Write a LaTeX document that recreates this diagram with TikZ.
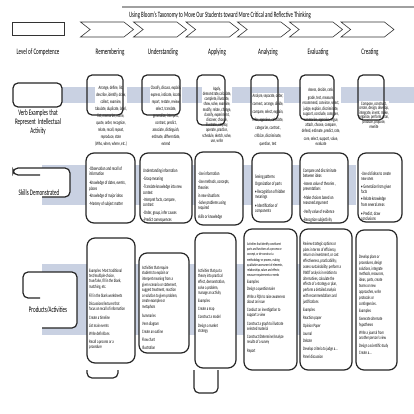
\documentclass[tikz,border=0pt]{standalone}
\usepackage{fontspec}
\setmainfont{Carlito}[FakeStretch=0.6]
\usetikzlibrary{shapes.symbols}
\definecolor{bandblue}{RGB}{201,209,226}
\definecolor{rulegray}{RGB}{160,160,160}

\begin{document}
\begin{tikzpicture}[x=1pt, y=-1pt,
  ttl/.style={font=\fontsize{8.1}{9}\selectfont, inner sep=0pt},
  hdr/.style={font=\fontsize{8.4}{9}\selectfont, inner sep=0pt, align=center},
  chev/.style={signal, signal from=west, signal to=east, signal pointer angle=76,
               draw=black!80, line width=0.6pt, minimum width=53pt, minimum height=15pt, inner sep=0pt},
  lvlbox/.style={rectangle, draw=black!80, line width=0.6pt, minimum width=52pt, minimum height=13pt},
  vbox/.style={rectangle, rounded corners=5pt, draw=black!85, line width=1.2pt},
  verb/.style={fill=white, inner sep=0.6pt, align=center, anchor=north},
  cbox/.style={rectangle, rounded corners=8pt, draw=black!85, fill=white, line width=1.2pt},
  skill/.style={anchor=north west, inner sep=0pt, align=left, font=\fontsize{5.2}{5.3}\selectfont},
  prod/.style={anchor=north west, inner sep=0pt, align=left, font=\fontsize{5}{5.6}\selectfont},
  rowline/.style={draw=black!85, fill=white, line width=1.2pt, rounded corners=5pt}]

  \useasboundingbox (0,0) rectangle (414,414);

  % bands behind the rows
  \fill[bandblue] (62,87) rectangle (414,103);
  \fill[bandblue] (42,165) rectangle (356,205);
  \fill[bandblue] (42,264) rectangle (300,335);
  \draw[rulegray, line width=2pt] (122,7) -- (414,7);

  \node[ttl] at (220,15) (title)
    {Using Bloom's Taxonomy to Move Our Students toward More Critical and Reflective Thinking};

  % header row
  \node[lvlbox] at (38,28.5) (lvl) {};
  \node[chev] at (107,29.5) (ch1) {};
  \node[chev] at (160,29.5) (ch2) {};
  \node[chev] at (212.5,29.5) (ch3) {};
  \node[chev] at (264,29.5) (ch4) {};
  \node[chev] at (316,29.5) (ch5) {};
  \node[chev] at (367.5,29.5) (ch6) {};

  \node[hdr] at (38,52) (lvltxt) {Level of Competence};
  \node[hdr] at (110,52) (rem) {Remembering};
  \node[hdr] at (163,52) (und) {Understanding};
  \node[hdr] at (217,52) (app) {Applying};
  \node[hdr] at (268,52) (ana) {Analyzing};
  \node[hdr] at (318,52) (eva) {Evaluating};
  \node[hdr] at (370,52) (cre) {Creating};

  % row labels
  \draw[rowline] (13,83) rectangle (62,107);
  \node[hdr] at (38,122) (verbs) {Verb Examples that\\ Represent \ Intellectual\\ Activity};
  \draw[rowline] (40,175) -- (13,175) -- (13,168) -- (70,168) -- (70,197) -- (42,197);
  \node[hdr] at (39,193) (skills) {Skills Demonstrated};
  \draw[rowline] (40,298) -- (23,298) -- (23,272) -- (77,272) -- (77,328) -- (42,328);
  \node[hdr] at (48,310) (prods) {Products/Activities};

  % verbs
  \node[verb, font=\fontsize{5.1}{7}\selectfont] at (111,85) (vt1)
    {Arrange, define, list,\\ describe, identify, draw,\\ collect, examine,\\ tabulate, duplicate, label,\\ list, memorize, name,\\ quote, order, recognize,\\ relate, recall, repeat,\\ reproduce, state\\ (Who, when, where, etc.)};
  \node[verb, font=\fontsize{5.1}{7}\selectfont] at (166,85) (vt2)
    {Classify, discuss, explain,\\ express, indicate, locate,\\ report, restate, review,\\ select, translate,\\ generalize, interpret,\\ contrast, predict,\\ associate, distinguish,\\ estimate, differentiate,\\ extend};
  \node[verb, font=\fontsize{5.1}{5.2}\selectfont] at (217,86) (vt3)
    {Apply,\\ demonstrate,calculate,\\ complete, illustrate,\\ show, solve, examine,\\ modify, relate, change,\\ classify, experiment,\\ discover, choose,\\ illustrate, employ,\\ operate, practice,\\ schedule, sketch, solve,\\ use, write};
  \node[verb, font=\fontsize{5.1}{8}\selectfont] at (268,93) (vt4)
    {Analyze, separate, order,\\ connect, arrange, divide,\\ compare, select, explain,\\ infer, appraise, calculate,\\ categorize, contrast,\\ criticize, discriminate,\\ question, test};
  \node[verb, font=\fontsize{5.1}{5.5}\selectfont] at (321,87) (vt5)
    {Assess, decide, rank,\\[2.5pt] grade, test, measure,\\ recommend, convince, select,\\ judge, explain, discriminate,\\ support, conclude, compare,\\ summarize, appraise, argue,\\ attach, choose, compare,\\ defend, estimate, predict, rate,\\[2.5pt] core, select, support, value,\\ evaluate};
  \node[verb, font=\fontsize{5.1}{4.6}\selectfont] at (374,101) (vt6)
    {Compose, construct,\\ create, design, develop,\\ integrate, invent, make,\\ organize, perform, plan,\\ produce, propose,\\ rewrite};

  \node[vbox, minimum width=36pt, minimum height=40pt] at (105,95) (vb1) {};
  \node[vbox, minimum width=38pt, minimum height=40pt] at (161,95) (vb2) {};
  \node[vbox, minimum width=28pt, minimum height=50pt] at (211,100) (vb3) {};
  \node[vbox, minimum width=27pt, minimum height=45pt] at (264.5,97.5) (vb4) {};
  \node[vbox, minimum width=34pt, minimum height=45pt] at (317,97.5) (vb5) {};
  \node[vbox, minimum width=26pt, minimum height=45pt] at (371,97.5) (vb6) {};

  % skills
  \node[cbox, minimum width=49pt, minimum height=70pt] at (110.5,188) (sb1) {};
  \node[cbox, minimum width=52pt, minimum height=70pt] at (166,188) (sb2) {};
  \node[cbox, minimum width=48pt, minimum height=73pt] at (219,188.5) (sb3) {};
  \node[cbox, minimum width=40pt, minimum height=69pt] at (272,187.5) (sb4) {};
  \node[cbox, minimum width=48pt, minimum height=70pt] at (324,188) (sb5) {};
  \node[cbox, minimum width=44pt, minimum height=69pt] at (380,187.5) (sb6) {};

  \node[skill] at (89,166.4) (st1)
    {-Observation and recall of\\ information\\[4pt] -Knowledge of dates, events,\\ places\\[2.5pt] -Knowledge of major ideas\\[2.5pt] -Mastery of subject matter};
  \node[skill] at (143,168.4) (st2)
    {Understanding information\\[3pt] -Grasp meaning\\[3pt] -Translate knowledge into new\\ context\\[2pt] -Interpret facts, compare,\\ contrast\\[2.5pt] -Order, group, infer causes\\[2pt] -Predict consequences};
  \node[skill] at (198,171.4) (st3)
    {-Use information\\[3.5pt] -Use methods, concepts,\\ theories\\[2.5pt] in new situations\\[2pt] -Solve problems using\\ required\\[3.5pt] skills or knowledge};
  \node[skill] at (255,174.4) (st4)
    {Seeing patterns\\[2.5pt] Organization of parts\\[2pt] • Recognition of hidden\\ meanings\\[3.5pt] • Identification of\\ components};
  \node[skill] at (303,168.4) (st5)
    {Compare and discriminate\\ between ideas\\[2.5pt] -Assess value of theories ,\\ presentations\\[3.5pt] -Make choices based on\\ reasoned argument\\[3.5pt] -Verify value of evidence\\[2.5pt] -Recognize subjectivity};
  \node[skill] at (361,171.4) (st6)
    {-Use old ideas to create\\ new ones\\[2.5pt] • Generalize from given\\ facts\\[2pt] • Relate knowledge\\ from several areas\\[3.5pt] • Predict, draw\\ conclusions};

  % products / activities
  \node[cbox, minimum width=48pt, minimum height=125pt] at (111,300.5) (pb1) {};
  \node[cbox, minimum width=50pt, minimum height=100pt] at (164,303) (pb2) {};
  \node[cbox, minimum width=41pt, minimum height=135pt] at (215.5,300.5) (pb3) {};
  \node[cbox, minimum width=53pt, minimum height=141pt] at (270.5,299.5) (pb4) {};
  \node[cbox, minimum width=52pt, minimum height=141pt] at (326,299.5) (pb5) {};
  \node[cbox, minimum width=41pt, minimum height=140pt] at (376.5,300) (pb6) {};
  \draw[rowline, fill=none] (87,370) -- (87,378) -- (118,378) -- (118,370);
  \draw[rowline, fill=none] (194,370) -- (194,393) -- (218,393) -- (218,370);

  \node[prod, font=\fontsize{5}{5.3}\selectfont] at (89,268.6) (pt1)
    {Examples: Most traditional\\ test/multiple-choice,\\ true/false, fill in the blank,\\ matching, etc.\\[4.5pt] Fill in the blank worksheets\\[2pt] Discussions/lectures that\\ focus on recall of information\\[3.5pt] Create a timeline\\[2.7pt] List main events\\[2.7pt] Write definitions\\[2.7pt] Recall a process or a\\ procedure};
  \node[prod] at (142,265.6) (pt2)
    {Activities that require\\ students to explain or\\ interpret meaning from a\\ given scenario or statement,\\ suggest treatment, reaction\\ or solution to given problem,\\ create examples or\\ metaphors\\[3pt] Summaries\\[2.5pt] Venn diagram\\[2.5pt] Create an outline\\[2.5pt] Flow chart\\[2.5pt] Illustration};
  \node[prod] at (198,268.6) (pt3)
    {Activities that put a\\ theory into practical\\ effect, demonstration,\\ solve a problem,\\ manage an activity\\[2.5pt] Examples:\\[2.5pt] Create a map\\[2.5pt] Construct a model\\[2.5pt] Design a market\\ strategy};
  \node[prod, font=\fontsize{4.1}{5.3}\selectfont] at (247,242.1) (pt4)
    {Activities that identify constituent\\ parts and functions of a process or\\ concept, or de-construct a\\ methodology or process, making\\ qualitative assessment of elements,\\ relationships, values and effects;\\ measure requirements or needs};
  \node[prod, font=\fontsize{5}{5.3}\selectfont] at (247,279.6) (pt4x)
    {Examples:\\[2pt] Design a questionnaire\\[2.5pt] Write a FQA to raise awareness\\ about an issue\\[2.5pt] Conduct an investigation to\\ support a view\\[3.5pt] Construct a graph to illustrate\\ selected material\\[2.5pt] Construct/Determine/Analyze\\ results of a survey\\[3.5pt] Report};
  \node[prod, font=\fontsize{5}{5.8}\selectfont] at (303,241.6) (pt5)
    {Review strategic options or\\ plans in terms of efficiency,\\ return on investment, or cost\\ effectiveness, practicability;\\ assess sustainability; perform a\\ SWOT analysis in relation to\\ alternatives, calculate the\\ effects of a strategy or plan,\\ perform a detailed analysis\\ with recommendations and\\ justifications\\[2.2pt] Examples:\\[2.2pt] Reaction paper\\[2.2pt] Opinion Paper\\[2.2pt] Journal\\[1.5pt] Debate\\[2.2pt] Develop criteria to judge a...\\[2.2pt] Panel discussion};
  \node[prod, font=\fontsize{5}{5.9}\selectfont] at (359,254.6) (pt6)
    {Develop plans or\\ procedures, design\\ solutions, integrate\\ methods, resources,\\ ideas, parts, create\\ teams or new\\ approaches, write\\ protocols or\\ contingencies.\\[1.5pt] Examples:\\[1.5pt] Generate alternate\\ hypotheses\\[2pt] Write a journal from\\ another person's view\\[1.5pt] Design a scientific study\\[1.5pt] Create a...};

\end{tikzpicture}
\end{document}
